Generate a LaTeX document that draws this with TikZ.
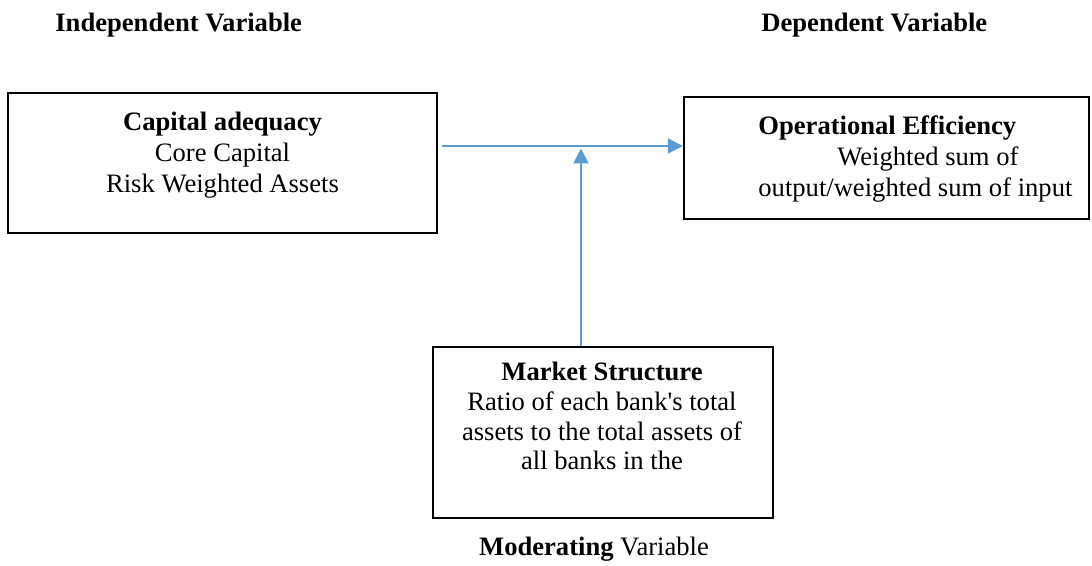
\documentclass[tikz,border=0pt]{standalone}
\usepackage{fontspec}
\setmainfont{Liberation Serif}
\usetikzlibrary{arrows.meta}
\definecolor{linkblue}{RGB}{91,155,213}
\begin{document}
\begin{tikzpicture}[x=0.5pt,y=-0.5pt,
		every node/.style={font=\fontsize{13.3}{15.5}\selectfont, inner sep=0pt},
		varbox/.style={draw, line width=1.2pt},
		link/.style={linkblue, line width=1pt, -{Triangle[length=7.5pt,width=7.5pt]}}]
	\useasboundingbox (0,0) rectangle (1092,566);
	% headings
	\node[anchor=base west] (indep) at (55,32) {\textbf{Independent Variable}};
	\node[anchor=base west] (dep) at (761,32) {\textbf{Dependent Variable}};
	\node[anchor=base] (moder) at (594,555) {\textbf{Moderating} Variable};
	% the three boxes
	\node[varbox, minimum width=214.5pt, minimum height=70pt] (cap) at (222.5,163) {};
	\node[varbox, minimum width=202.5pt, minimum height=61pt] (eff) at (886.5,158) {};
	\node[varbox, minimum width=170pt, minimum height=85.5pt] (mkt) at (603,432.5) {};
	% box texts
	\node[anchor=north, align=center] (captext) at (222.5,112)
		{\textbf{Capital adequacy}\\Core Capital\\Risk Weighted Assets};
	\node[anchor=north west, align=left] (efftext) at (758,115)
		{\textbf{Operational Efficiency}\\\hspace*{39.5pt}Weighted sum of\\output/weighted sum of input};
	\node[anchor=north, align=center, font=\fontsize{13.3}{14.8}\selectfont] (mkttext) at (602,362)
		{\textbf{Market Structure}\\Ratio of each bank\textquotesingle s total\\assets to the total assets of\\all banks in the};
	% arrows
	\coordinate (out) at ([shift={(2pt,8.5pt)}]cap.east);
	\coordinate (hit) at (581,148.5);
	\draw[link] (out) -- (out -| eff.west);
	\draw[link] (hit |- mkt.north) -- (hit);
\end{tikzpicture}
\end{document}
